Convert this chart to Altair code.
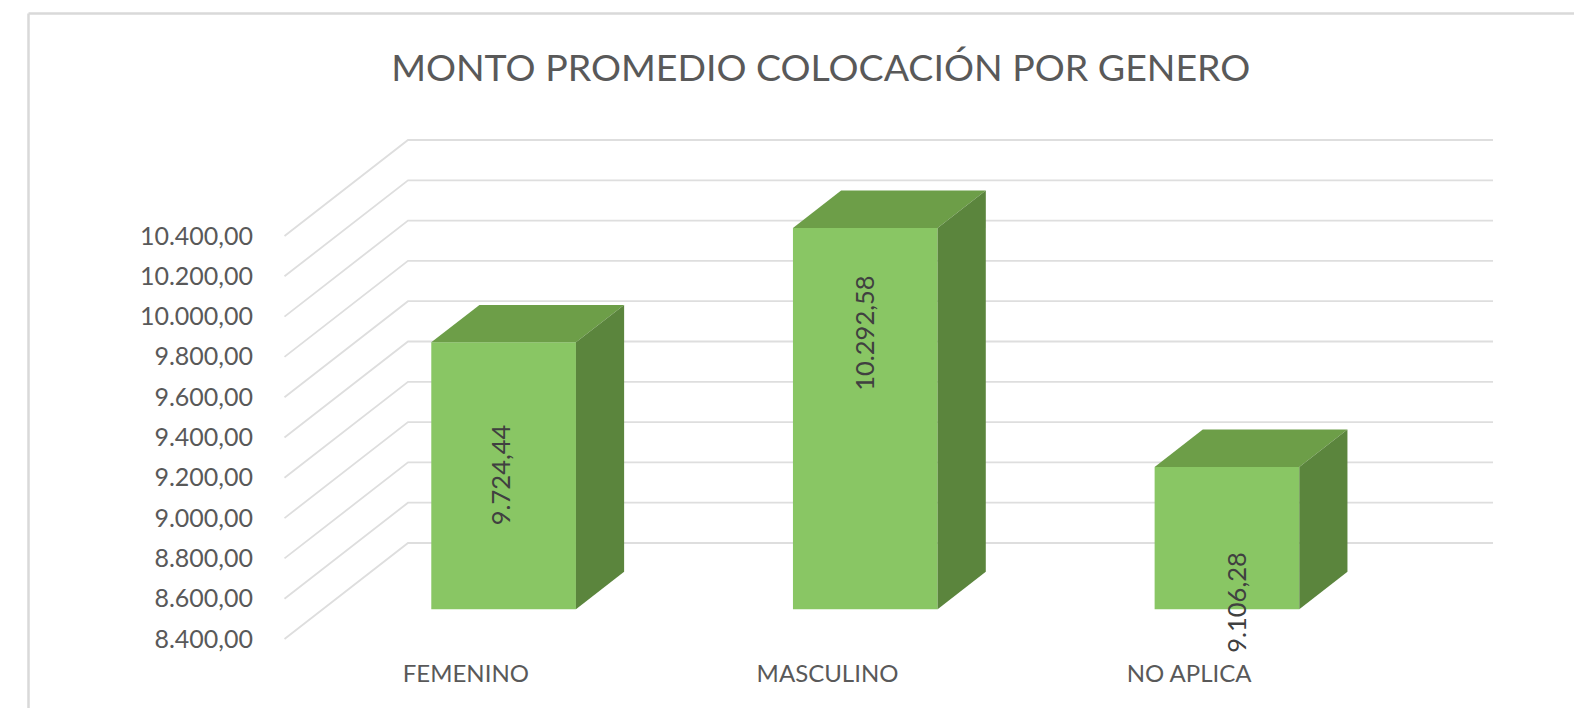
import altair as alt
import pandas as pd

# --- values
categories = ["FEMENINO", "MASCULINO", "NO APLICA"]
values = [9724.44, 10292.58, 9106.28]
value_labels = ["9.724,44", "10.292,58", "9.106,28"]
ticks = [8400, 8600, 8800, 9000, 9200, 9400, 9600, 9800, 10000, 10200, 10400]
title_text = "MONTO PROMEDIO COLOCACIÓN POR GENERO"
# where each value label sits: shift from the slot centre, height on the value scale
label_dx = [0.101, 0.108, 0.136]
label_at = [9214, 9918, 8581]

# --- oblique projection, in axis units
PX_X, PX_Y = 361.67, 40.3 / 200           # pixels per slot, pixels per value unit
DEPTH_X, DEPTH_Y = 123.5 / PX_X, 96 / PX_Y   # wall depth in slots and value units
F0, F1 = 0.31, 0.70                       # bar front and back as share of depth
BAR = 0.40                                # bar width in slots
Y0 = 8400
XMAX = 1208.5 / PX_X
YMAX = Y0 + 499 / PX_Y

grid = pd.DataFrame(
    [r for t in ticks for r in (
        {"t": t, "o": 0, "x": 0, "y": t},
        {"t": t, "o": 1, "x": DEPTH_X, "y": t + DEPTH_Y},
        {"t": t, "o": 2, "x": XMAX, "y": t + DEPTH_Y},
    )]
)
front, top, side, labels = [], [], [], []
for i, (c, v, lab) in enumerate(zip(categories, values, value_labels)):
    xl, xr = i + 0.5 - BAR / 2 + F0 * DEPTH_X, i + 0.5 + BAR / 2 + F0 * DEPTH_X
    base, tv = Y0 + F0 * DEPTH_Y, v + F0 * DEPTH_Y
    front.append({"c": c, "x": xl, "x2": xr, "y": base, "y2": tv})
    dx, dy = (F1 - F0) * DEPTH_X, (F1 - F0) * DEPTH_Y
    top += [
        {"c": c, "x": xl, "x2": xr, "y": tv},
        {"c": c, "x": xl + dx, "x2": xr + dx, "y": tv + dy},
    ]
    side += [
        {"c": c, "x": xr, "y": base, "y2": tv},
        {"c": c, "x": xr + dx, "y": base + dy, "y2": tv + dy},
    ]
    labels.append({"c": c, "x": i + 0.5 + label_dx[i], "y": label_at[i], "t": lab})

FONT = "Lato"
TXT = "#595959"
cat_expr = "['FEMENINO','MASCULINO','NO APLICA'][floor(datum.value)]"
tick_expr = "replace(replace(replace(format(datum.value, ',.2f'), ',', '_'), '.', ','), '_', '.')"

xs = alt.Scale(domain=[0, XMAX], nice=False, zero=False)
ys = alt.Scale(domain=[Y0, YMAX], nice=False, zero=False)
x_axis = alt.Axis(
    values=[0.5, 1.5, 2.5], labelExpr=cat_expr, title=None, grid=False,
    domain=False, ticks=False, labelFont=FONT, labelFontSize=24,
    labelColor=TXT, labelPadding=23, labelAlign="center",
)
y_axis = alt.Axis(
    values=ticks, labelExpr=tick_expr, title=None, grid=False,
    domain=False, ticks=False, labelFont=FONT, labelFontSize=25,
    labelColor=TXT, labelPadding=32,
)
X = alt.X("x:Q", scale=xs, axis=x_axis)
Y = alt.Y("y:Q", scale=ys, axis=y_axis, stack=None)

grid_l = alt.Chart(grid).mark_line(color="#dedede", strokeWidth=1.8).encode(
    x=X, y=Y, detail="t:N", order="o:Q"
)
front_l = alt.Chart(pd.DataFrame(front)).mark_rect(color="#89c664").encode(
    x=X, x2="x2:Q", y=Y, y2="y2:Q"
)
top_l = alt.Chart(pd.DataFrame(top)).mark_area(color="#6d9e48", orient="horizontal").encode(
    x=X, x2="x2:Q", y=Y, detail="c:N"
)
side_l = alt.Chart(pd.DataFrame(side)).mark_area(color="#5b853d", orient="vertical").encode(
    x=X, y=Y, y2="y2:Q", detail="c:N"
)
label_l = alt.Chart(pd.DataFrame(labels)).mark_text(
    angle=270, font=FONT, fontSize=25.5, color="#404040", align="center", baseline="middle"
).encode(x=X, y=Y, text="t:N")

frame_color = "#d9d9d9"
frame_top = alt.Chart(pd.DataFrame({"a": [0]})).mark_rule(color=frame_color, strokeWidth=2.5).encode(
    x=alt.value(-256), x2=alt.value(1290), y=alt.value(-126.6)
)
frame_left = alt.Chart(pd.DataFrame({"a": [0]})).mark_rule(color=frame_color, strokeWidth=2.5).encode(
    x=alt.value(-256), y=alt.value(-126.6), y2=alt.value(568)
)

chart = (
    alt.layer(frame_top, frame_left, grid_l, front_l, top_l, side_l, label_l)
    .properties(
        width=1208.5,
        height=499,
        background="white",
        padding={"left": 276.5, "top": 132, "right": 81, "bottom": 69},
        autosize=alt.AutoSizeParams(type="none"),
        title=alt.TitleParams(
            title_text, font=FONT, fontSize=37.5, fontWeight="normal", color=TXT,
            anchor="middle", frame="group", dx=-68, offset=-76,
        ),
    )
    .configure_view(stroke=None)
)
chart.save("out.html", embed_options={"renderer": "svg", "actions": False})
